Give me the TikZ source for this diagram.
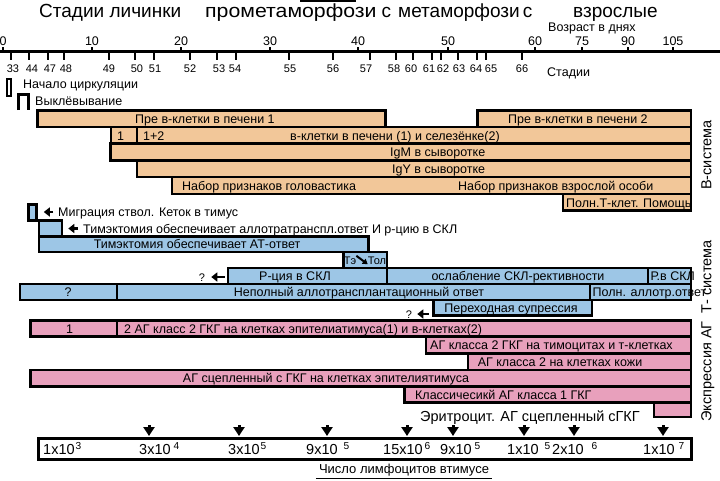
\documentclass[tikz,border=0pt]{standalone}
\usepackage{fontspec}
\usepackage{graphicx}
\setmainfont{Liberation Sans}
\usetikzlibrary{fit,arrows.meta}
\definecolor{orc}{RGB}{242,199,153}
\definecolor{blc}{RGB}{157,198,230}
\definecolor{pkc}{RGB}{232,160,188}
\newcommand\mkbox[6]{\node[#6,fit={(#2,#3) (#4,#5)}] (#1) {};}
\tikzset{
  bx/.style={draw=black,line width=2.6pt,inner sep=0pt},
  ob/.style={bx,fill=orc},
  bb/.style={bx,fill=blc},
  pb/.style={bx,fill=pkc},
  t/.style={inner sep=0pt,anchor=west,font=\fontsize{12.5}{14}\selectfont,text height=9pt,text depth=0pt},
  tc/.style={t,anchor=center},
  sm/.style={inner sep=0pt,font=\fontsize{11}{13}\selectfont,text height=8pt,text depth=0pt},
  ttl/.style={inner sep=0pt,anchor=base west,font=\fontsize{19}{21}\selectfont},
  side/.style={inner sep=0pt,rotate=90,font=\fontsize{14.5}{17}\selectfont,text height=10.5pt,text depth=0pt},
  val/.style={inner sep=0pt,anchor=west,font=\fontsize{14.5}{16}\selectfont,text height=10.5pt,text depth=0pt},
  fat/.style={line width=2.6pt,-{Triangle[length=6pt,width=9pt]}},
  dfat/.style={line width=3pt,-{Triangle[length=9pt,width=11pt]}},
  tick/.style={line width=2.6pt},
}
\begin{document}
\begin{tikzpicture}[x=1pt,y=-1pt]
\useasboundingbox (0,0) rectangle (720,480);
\fill[white] (0,0) rectangle (720,480);

% titles
\node[ttl] (t1) at (39,17) {Стадии личинки};
\node[ttl] (t2) at (205,17) {\scalebox{1.12}[1]{прометаморфози}\hspace{5pt}с};
\node[ttl] (t3) at (398,17) {метаморфози\hspace{3pt}с};
\node[ttl] (t4) at (573,17) {взрослые};
\draw[line width=1.5pt] (300,1) -- (356,1);
\node[t] (vozr) at (548,27) {Возраст в днях};

% axis
\draw[line width=3pt] (0,51) -- (720,51);
\foreach \x/\l [count=\i] in {3/0,92/10,181/20,270/30,358/40,448/50,535/60,582/75,628/90,673/105}{
  \draw[tick] (\x,47) -- (\x,51);
  \node[tc] (age\i) at (\x,41) {\l};
}
\foreach \x/\lx/\l [count=\i] in {11/13/33,29/32/44,48/50/47,64/66/48,109/109/49,135/137/50,154/155/51,190/190/52,217/219/53,236/235/54,289/290/55,333/333/56,370/366/57,396/394/58,413/411/60,432/429/61,441/443/62,458/459/63,477/476/64,486/491/65,522/522/66}{
  \draw[tick] (\x,51) -- (\x,60);
  \node[sm] (stg\i) at (\lx,68) {\l};
}
\node[t] (stadii) at (547,72) {Стадии};

% markers
\node[bx,line width=2.4pt,fill=white,fit={(7,79) (11,96)}] (circ) {};
\node[t] (circlbl) at (23,84) {Начало циркуляции};
\draw[line width=2.6pt] (18.5,110) -- (18.5,94.5) -- (28.5,94.5) -- (28.5,110);
\node[t] (hatch) at (35,101) {Выклёвывание};

% B-system (orange)
\mkbox{ob1}{37.5}{110.5}{385.5}{127}{ob}
\mkbox{ob2}{477.5}{110.5}{691}{127}{ob}
\mkbox{ob3a}{111}{127}{137}{143.5}{ob}
\mkbox{ob3b}{137}{127}{691}{143.5}{ob}
\mkbox{ob4}{110.5}{143.5}{691}{160.5}{ob}
\mkbox{ob5}{137}{160.5}{691}{177}{ob}
\mkbox{ob6}{172}{177}{691}{194}{ob}
\mkbox{ob7}{563}{194}{691}{210.5}{ob}
\node[t] (ob1t) at (135,118.5) {Пре в-клетки в печени 1};
\node[t] (ob2t) at (508,118.5) {Пре в-клетки в печени 2};
\node[t] (ob3at) at (117,135.5) {1};
\node[t] (ob3bt) at (143,136) {1+2};
\node[t] (ob3ct) at (290,135.5) {в-клетки в печени (1) и селезёнке(2)};
\node[t] (ob4t) at (390,152) {IgM в сыворотке};
\node[t] (ob5t) at (392,169) {IgY в сыворотке};
\node[t] (ob6t) at (182,185.5) {Набор признаков головастика};
\node[t] (ob6u) at (458,185.5) {Набор признаков взрослой особи};
\begin{scope}
\clip (564.3,195) rectangle (689.7,209.5);
\node[t] (ob7t) at (566,202.5) {Полн.Т-клет. Помощь};
\end{scope}

% T-system (blue)
\mkbox{bb1}{28.5}{204.5}{36.5}{220.5}{bb}
\mkbox{bb2}{39}{220.5}{62}{236.5}{bb}
\mkbox{bb3}{39}{236.5}{368.5}{252}{bb}
\mkbox{bb4}{343.5}{252}{387}{268}{bb}
\mkbox{bb5}{228}{268}{387}{284}{bb}
\mkbox{bb6}{387}{268}{648}{284}{bb}
\mkbox{bb7}{648}{268}{691}{284}{bb}
\mkbox{bb8}{20}{284}{117}{300}{bb}
\mkbox{bb9}{117}{284}{590}{300}{bb}
\mkbox{bb10}{590}{284}{691}{300}{bb}
\mkbox{bb11}{433.5}{300}{592}{315.5}{bb}

\node[t] (mig) at (58,212) {Миграция ствол. Кеток в тимус};
\draw[fat,shorten <=5pt,shorten >=6pt] (mig.west) -- (mig.west -| bb1.east);
\node[t] (thal) at (83,228.5) {Тимэктомия обеспечивает аллотратранспл.ответ И р-цию в СКЛ};
\draw[fat,shorten <=5pt,shorten >=5pt] (thal.west) -- (thal.west -| bb2.east);
\node[tc] (bb3t) at (197,244) {Тимэктомия обеспечивает АТ-ответ};
\node[sm] (te) at (350,260) {Тэ};
\node[sm] (tol) at (377,260) {Тол};
\draw[line width=2pt,-{Triangle[length=5pt,width=6pt]}] (te.north east) -- (tol.south west);
\node[tc] (bb5t) at (295,276) {Р-ция в СКЛ};
\node[sm] (q1) at (202,277) {?};
\draw[fat,shorten <=2pt,shorten >=6pt] (q1.east -| bb5.west) -- (q1.east);
\node[tc] (bb6t) at (518,276) {ослабление СКЛ-рективности};
\node[t] (bb7t) at (650.5,276) {Р.в СКЛ};
\node[tc] (bb8t) at (68,292) {?};
\node[tc] (bb9t) at (359,292) {Неполный аллотрансплантационный ответ};
\node[t] (bb10t) at (592.5,292) {Полн. аллотр.ответ};
\node[tc] (bb11t) at (511,308) {Переходная супрессия};
\node[sm] (q2) at (409,314) {?};
\draw[fat,shorten <=3pt,shorten >=5pt] (q2.east -| bb11.west) -- (q2.east);

% antigen expression (pink)
\mkbox{pb1}{30.5}{320.5}{117}{336.5}{pb}
\mkbox{pb2}{117}{320.5}{691}{336.5}{pb}
\mkbox{pb3}{426}{336.5}{691}{353.5}{pb}
\mkbox{pb4}{468}{353.5}{691}{370}{pb}
\mkbox{pb5}{30.5}{370}{691}{386.5}{pb}
\mkbox{pb6}{404.5}{386.5}{691}{402.5}{pb}
\mkbox{pb7}{654}{402.5}{691}{417}{pb}
\node[t] (pb1t) at (66,328.5) {1};
\node[t] (pb2t) at (124,328.5) {2 АГ класс 2 ГКГ на клетках эпителиатимуса(1) и в-клетках(2)};
\node[t] (pb3t) at (430,345) {АГ класса 2 ГКГ на тимоцитах и т-клетках};
\node[tc] (pb4t) at (560,362) {АГ класса 2 на клетках кожи};
\node[tc] (pb5t) at (326,378) {АГ сцепленный с ГКГ на клетках эпителиятимуса};
\node[t] (pb6t) at (415,394.5) {Классичесикй АГ класса 1 ГКГ};
\node[inner sep=0pt,anchor=west,font=\fontsize{14.5}{16}\selectfont,text height=10.5pt,text depth=0pt] (erit) at (420,416) {Эритроцит. АГ сцепленный сГКГ};

% side labels
\node[side] (bsys) at (706,155) {В-система};
\node[side] (tsys) at (706,331) {Экспрессия АГ\ \ Т- система};

% lymphocyte count
\node[bx,line width=3pt,fill=white,fit={(38.5,438.5) (691.5,459.5)}] (lym) {};
\foreach \x [count=\i] in {149,239,327,407,453,524,574,663}{
  \coordinate (da\i) at (\x,425);
  \draw[dfat,shorten >=1pt] (da\i) -- (da\i |- lym.north);
}
\node[val] (v1) at (43,449) {1x10\hspace{1pt}\textsuperscript{3}};
\node[val] (v2) at (139,449) {3x10\hspace{3pt}\textsuperscript{4}};
\node[val] (v3) at (228,449) {3x10\hspace{1pt}\textsuperscript{5}};
\node[val] (v4) at (306,449) {9x10\hspace{6pt}\textsuperscript{5}};
\node[val] (v5) at (383,449) {15x10\hspace{2pt}\textsuperscript{6}};
\node[val] (v6) at (440,449) {9x10\hspace{3pt}\textsuperscript{5}};
\node[val] (v7) at (507,449) {1x10\hspace{6pt}\textsuperscript{5}};
\node[val] (v8) at (552,449) {2x10\hspace{8pt}\textsuperscript{6}};
\node[val] (v9) at (643,449) {1x10\hspace{4pt}\textsuperscript{7}};
\node[inner sep=0pt,font=\fontsize{13}{15}\selectfont,text height=9pt,text depth=0pt] (lymlbl) at (404,469) {Число лимфоцитов втимусе};
\draw[line width=1pt] ([yshift=-4.5pt,xshift=-3pt]lymlbl.south west) -- ([yshift=-4.5pt,xshift=3pt]lymlbl.south east);
\end{tikzpicture}
\end{document}
